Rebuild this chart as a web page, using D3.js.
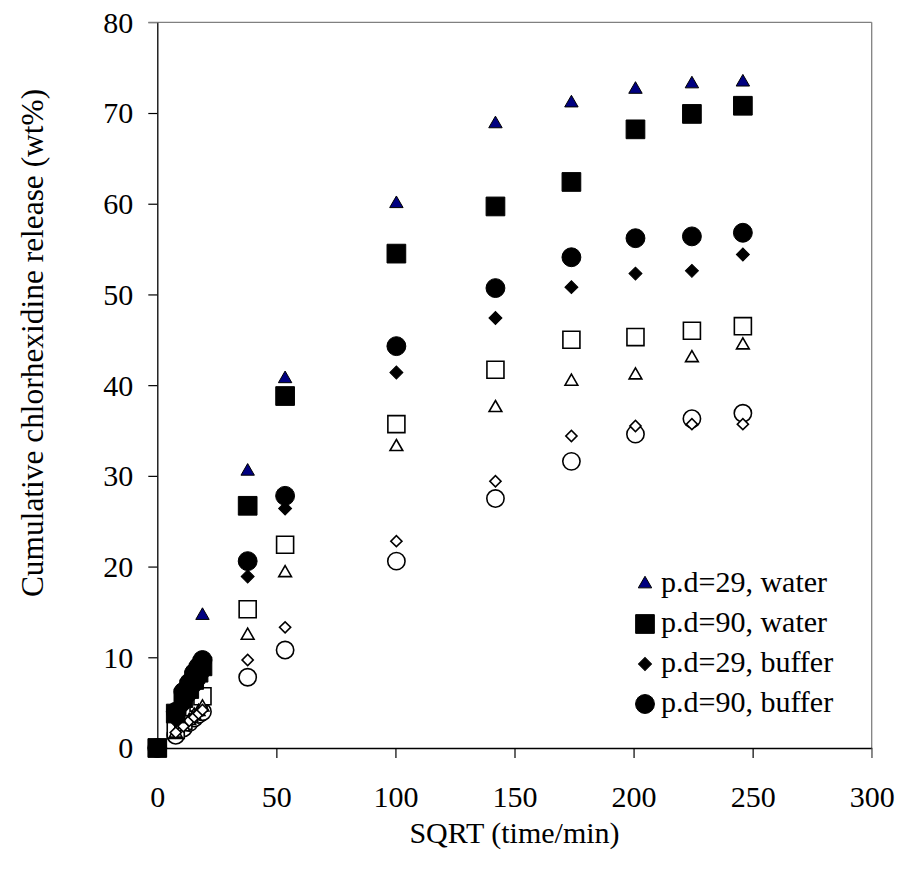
<!DOCTYPE html>
<html>
<head>
<meta charset="utf-8">
<script src="https://cdn.jsdelivr.net/npm/d3@7"></script>
<style>
  body { margin: 0; background: #ffffff; }
  text { font-family: "Liberation Serif", "Times New Roman", serif; fill: #000; }
</style>
</head>
<body>
<div id="chart"></div>
<script>
// sqrt(time) in minutes: 0, 1-6 h, then 1 d, 2 d and weekly
const sqrtTime = [0, 7.75, 10.95, 13.42, 15.49, 17.32, 18.97, 37.95, 53.67, 100.4, 142.0, 173.9, 200.8, 224.5, 245.9];

const pd29Water  = [0, 4.2, 5.8, 7.2, 8.3, 9.4, 14.6, 30.5, 40.7, 60.0, 68.8, 71.1, 72.6, 73.2, 73.4];
const pd90Water  = [0, 3.8, 5.5, 6.5, 7.5, 8.3, 9.0, 26.7, 38.8, 54.5, 59.7, 62.4, 68.2, 69.9, 70.8];
const pd29Buffer = [0, 3.0, 4.5, 5.5, 6.5, 7.2, 8.0, 18.9, 26.4, 41.4, 47.4, 50.8, 52.3, 52.6, 54.4];
const pd90Buffer = [0, 4.0, 6.2, 7.2, 8.3, 9.0, 9.7, 20.6, 27.8, 44.3, 50.7, 54.1, 56.2, 56.4, 56.8];
const openCircle  = [0, 1.4, 2.2, 2.8, 3.3, 3.7, 4.0, 7.8, 10.8, 20.6, 27.5, 31.6, 34.6, 36.3, 36.9];
const openSquare  = [0, 2.0, 3.0, 3.8, 4.5, 5.0, 5.7, 15.3, 22.4, 35.7, 41.7, 45.0, 45.3, 46.0, 46.5];
const openTri     = [0, 1.6, 2.3, 3.0, 3.6, 4.0, 4.5, 12.4, 19.3, 33.2, 37.5, 40.4, 41.1, 43.0, 44.4];
const openDiamond = [0, 1.7, 2.4, 3.0, 3.4, 3.8, 4.2, 9.7, 13.3, 22.8, 29.4, 34.4, 35.5, 35.7, 35.7];

const xTicks = [0, 50, 100, 150, 200, 250, 300];
const yTicks = [0, 10, 20, 30, 40, 50, 60, 70, 80];

const legendNames = ["p.d=29, water", "p.d=90, water", "p.d=29, buffer", "p.d=90, buffer"];

function chartConfig() {
  let config = {
    width: 899,
    height: 877,
    margin: { top: 22.3, bottom: 129, left: 157.3, right: 27.3 },
    fontSize: 30,
    container: d3.select("#chart").append("svg")
  };
  config.bodyWidth = config.width - config.margin.left - config.margin.right;
  config.bodyHeight = config.height - config.margin.top - config.margin.bottom;
  config.container
    .attr("width", config.width)
    .attr("height", config.height);
  config.body = config.container.append("g")
    .attr("transform", `translate(${config.margin.left},${config.margin.top})`);
  config.x = d3.scaleLinear().domain([0, 300]).range([0, config.bodyWidth]);
  config.y = d3.scaleLinear().domain([0, 80]).range([config.bodyHeight, 0]);
  return config;
}

let cfg = chartConfig();

// marker styles, diamonds are rotated squares
const filled = [
  { values: pd29Water,  type: d3.symbolTriangle, size: 78,  fill: "#000080", stroke: "#000", sw: 1, rot: 0 },
  { values: pd90Water,  type: d3.symbolSquare,   size: 350, fill: "#000",    stroke: "#000", sw: 1, rot: 0 },
  { values: pd29Buffer, type: d3.symbolSquare,   size: 84,  fill: "#000",    stroke: "#000", sw: 1, rot: 45 },
  { values: pd90Buffer, type: d3.symbolCircle,   size: 280, fill: "#000",    stroke: "#000", sw: 1, rot: 0 }
];
const open = [
  { values: openCircle, type: d3.symbolCircle,   size: 235, fill: "#fff", stroke: "#000", sw: 1.6, rot: 0 },
  { values: openSquare, type: d3.symbolSquare,   size: 290, fill: "#fff", stroke: "#000", sw: 1.6, rot: 0 },
  { values: openTri,    type: d3.symbolTriangle, size: 70,  fill: "#fff", stroke: "#000", sw: 1.6, rot: 0 },
  { values: openDiamond,type: d3.symbolSquare,   size: 62,  fill: "#fff", stroke: "#000", sw: 1.6, rot: 45 }
];
// open ones underneath, filled square series on top
const drawOrder = [open[0], open[1], open[2], open[3], filled[0], filled[2], filled[3], filled[1]];

function drawFrame() {
  let w = cfg.bodyWidth, h = cfg.bodyHeight;
  // gray top / right border
  cfg.body.append("line")
    .attr("x1", -9).attr("x2", w).attr("y1", 0).attr("y2", 0)
    .attr("stroke", "#808080").attr("stroke-width", 1.3);
  cfg.body.append("line")
    .attr("x1", w).attr("x2", w).attr("y1", 0).attr("y2", h + 10)
    .attr("stroke", "#808080").attr("stroke-width", 1.3);

  let xAxis = d3.axisBottom(cfg.x).tickValues(xTicks).tickSize(10).tickSizeOuter(0).tickPadding(7);
  let yAxis = d3.axisLeft(cfg.y).tickValues(yTicks).tickSize(9).tickSizeOuter(0).tickPadding(15);

  let gx = cfg.body.append("g").attr("transform", `translate(0,${h})`).call(xAxis);
  let gy = cfg.body.append("g").call(yAxis);

  [gx, gy].forEach(g => {
    g.select(".domain").attr("stroke", "#000").attr("stroke-width", 1.3);
    g.selectAll(".tick line").attr("stroke", "#000").attr("stroke-width", 1.2);
    g.selectAll(".tick text")
      .attr("font-family", "Liberation Serif")
      .attr("font-size", cfg.fontSize)
      .attr("fill", "#000");
  });
  gy.selectAll(".tick text").attr("dy", "0.33em");
  gx.selectAll(".tick text").attr("dy", "1.4em");
  gx.selectAll(".tick").filter(d => d === 300).select("line").attr("stroke", "#808080");
  gy.selectAll(".tick").filter(d => d === 80).select("line").attr("stroke", "#808080");

  cfg.container.append("text")
    .attr("x", cfg.margin.left + w / 2)
    .attr("y", 843)
    .attr("text-anchor", "middle")
    .attr("font-size", cfg.fontSize)
    .text("SQRT (time/min)");

  cfg.container.append("text")
    .attr("transform", "translate(43,343) rotate(-90)")
    .attr("text-anchor", "middle")
    .attr("font-size", 31.4)
    .text("Cumulative chlorhexidine release (wt%)");
}

function drawSeries() {
  drawOrder.forEach(s => {
    let sym = d3.symbol().type(s.type).size(s.size);
    cfg.body.append("g").selectAll("path")
      .data(s.values.map((v, i) => [sqrtTime[i], v]))
      .enter()
      .append("path")
      .attr("d", sym)
      .attr("transform", d => `translate(${cfg.x(d[0])},${cfg.y(d[1])}) rotate(${s.rot})`)
      .attr("fill", s.fill)
      .attr("stroke", s.stroke)
      .attr("stroke-width", s.sw);
  });
}

function drawLegend() {
  let lg = cfg.container.append("g").attr("transform", "translate(645,584)");
  legendNames.forEach((name, i) => {
    let s = filled[i];
    lg.append("path")
      .attr("d", d3.symbol().type(s.type).size(s.size))
      .attr("transform", `translate(0,${i * 40}) rotate(${s.rot})`)
      .attr("fill", s.fill)
      .attr("stroke", s.stroke)
      .attr("stroke-width", s.sw);
    lg.append("text")
      .attr("x", 16)
      .attr("y", i * 40 + 8)
      .attr("font-size", 30)
      .text(name);
  });
}

drawFrame();
drawSeries();
drawLegend();
</script>
</body>
</html>
